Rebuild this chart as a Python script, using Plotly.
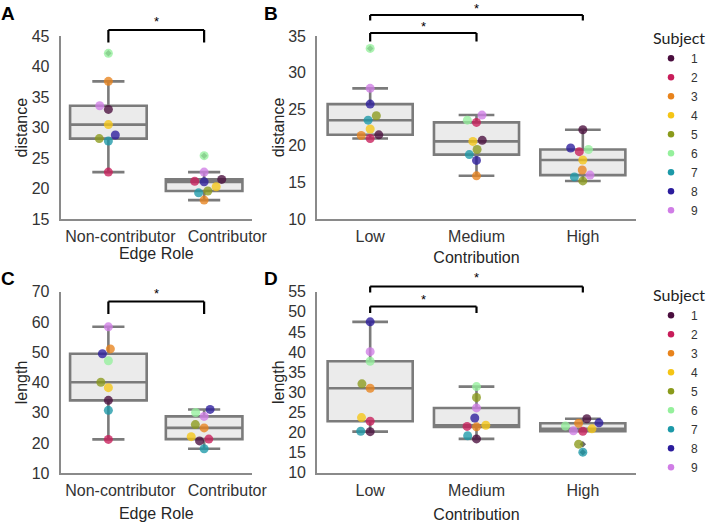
import numpy as np
import plotly.graph_objects as go

# ---------------- data (subjects 1..9) ----------------
subjects = ["1", "2", "3", "4", "5", "6", "7", "8", "9"]
subject_colors = ["#4a0e3e", "#c81d5a", "#e8831c", "#f5c515", "#8a9a1b",
                  "#95f09c", "#1c99a8", "#2b1c9c", "#d07de6"]

roles = ["Non-contributor", "Contributor"]
levels = ["Low", "Medium", "High"]

dist_noncontrib = [33.0, 22.7, 37.6, 30.5, 28.2, 42.2, 27.8, 28.8, 33.6]
dist_contrib = [21.5, 21.2, 18.1, 20.3, 19.6, 25.4, 19.3, 21.1, 22.7]

dist_low = [21.5, 21.0, 21.4, 22.3, 24.1, 33.3, 23.5, 25.7, 27.85]
dist_medium = [20.75, 23.2, 15.9, 20.6, 19.5, 23.5, 18.8, 18.0, 24.2]
dist_high = [22.2, 19.2, 16.7, 18.06, 15.2, 19.5, 15.75, 19.7, 16.0]

len_noncontrib = [34.1, 21.2, 51.1, 38.3, 40.1, 47.2, 30.8, 49.5, 58.4]
len_contrib = [20.7, 21.3, 25.0, 22.1, 26.1, 30.1, 18.1, 31.1, 28.8]

len_low = [20.2, 22.8, 31.0, 23.7, 32.1, 37.7, 20.3, 47.5, 40.1]
len_medium = [18.4, 21.5, 21.4, 21.8, 28.7, 31.4, 19.2, 23.6, 26.1]
len_high = [23.4, 20.3, 22.3, 20.9, 17.1, 21.6, 15.1, 22.4, 20.4]

# ---------------- layout geometry ----------------
W, H = 725, 525
FONT = "Liberation Sans, Arial, sans-serif"
DOT = 9
NB = "\u00a0"

# role labels sit a little wider apart than the boxes in the reference
role_labels = [roles[0], NB * 5 + roles[1]]

panels = [
    dict(letter="A", ax="", cats=role_labels, groups=[dist_noncontrib, dist_contrib],
         xpx=(60.5, 252), ypx=(36.3, 219), yr=(15, 45), dt=5,
         ytitle="distance", xtitle=NB * 3 + "Edge Role", tstand=0, shift=12,
         brackets=[(0, 1, 30, 42.5, 20)], legend=None, lpos=(0, 13)),
    dict(letter="B", ax="2", cats=levels, groups=[dist_low, dist_medium, dist_high],
         xpx=(317, 636), ypx=(36, 219), yr=(10, 35), dt=5,
         ytitle="distance", xtitle="Contribution", tstand=8, shift=0,
         brackets=[(0, 2, 15, 20.5, 5), (0, 1, 33, 41.5, 25)], legend="legend", lpos=(263, 13)),
    dict(letter="C", ax="3", cats=role_labels, groups=[len_noncontrib, len_contrib],
         xpx=(60.5, 252), ypx=(291.7, 473.3), yr=(10, 70), dt=10,
         ytitle="length", xtitle=NB * 3 + "Edge Role", tstand=10, shift=12,
         brackets=[(0, 1, 301.5, 314, 292)], legend=None, lpos=(0, 278)),
    dict(letter="D", ax="4", cats=levels, groups=[len_low, len_medium, len_high],
         xpx=(317, 636), ypx=(291.7, 472.7), yr=(10, 55), dt=5,
         ytitle="length", xtitle="Contribution", tstand=11, shift=0,
         brackets=[(0, 2, 286.5, 292.5, 276), (0, 1, 306.5, 313, 298)], legend="legend2", lpos=(263, 278)),
]


def swarm_offsets(vals, px_per_unit, diam):
    """Seaborn-like beeswarm: returns horizontal offsets in pixels."""
    vals = np.asarray(vals, dtype=float)
    order = np.argsort(vals, kind="stable")
    placed = []
    offs = np.zeros(len(vals))
    r = diam / 2.0
    for i in order:
        y = vals[i] * px_per_unit
        neighbors = [(xj, yj) for (xj, yj) in placed if abs(y - yj) < 2 * r]
        cands = [0.0]
        left_first = True
        for (xj, yj) in neighbors:
            dy = y - yj
            dx = np.sqrt(max((2 * r) ** 2 - dy ** 2, 0)) * 1.05
            pair = [xj - dx, xj + dx] if left_first else [xj + dx, xj - dx]
            cands.extend(pair)
            left_first = not left_first
        cands.sort(key=abs)
        chosen = cands[-1]
        for c in cands:
            if all((c - xj) ** 2 + (y - yj) ** 2 >= (2 * r) ** 2 * 0.999 for xj, yj in neighbors):
                chosen = c
                break
        placed.append((chosen, y))
        offs[i] = chosen
    return offs


fig = go.Figure()
layout = dict(template="none", width=W, height=H, autosize=False,
              margin=dict(l=0, r=0, t=0, b=0, pad=0, autoexpand=False),
              paper_bgcolor="white", plot_bgcolor="white",
              font=dict(family=FONT, size=16, color="#333333"),
              showlegend=True)
shapes, annotations = [], []
STAR_SIZE = 13

for p in panels:
    ax = p["ax"]
    n = len(p["cats"])
    x0, x1 = p["xpx"]
    yt, yb = p["ypx"]
    px_per_cat = (x1 - x0) / n
    px_per_unit = (yb - yt) / (p["yr"][1] - p["yr"][0])
    xa, ya = "x" + ax, "y" + ax

    # box
    bx, by = [], []
    for gi, g in enumerate(p["groups"]):
        bx += [gi] * len(g)
        by += list(g)
    fig.add_trace(go.Box(
        x=bx, y=by, xaxis=xa, yaxis=ya, width=0.8, whiskerwidth=0.42,
        quartilemethod="inclusive", boxpoints="outliers", jitter=0, pointpos=0,
        fillcolor="#ebebeb", line=dict(color="#7b7b7b", width=2.6),
        marker=dict(symbol="diamond", size=5, color="#6a6a6a"),
        showlegend=False, hoverinfo="skip"))

    # swarm points
    offsets = [swarm_offsets(g, px_per_unit, DOT) / px_per_cat for g in p["groups"]]
    for si, s in enumerate(subjects):
        xs = [gi + offsets[gi][si] for gi in range(n)]
        ys = [p["groups"][gi][si] for gi in range(n)]
        fig.add_trace(go.Scatter(
            x=xs, y=ys, xaxis=xa, yaxis=ya, mode="markers", name=s,
            marker=dict(size=DOT, color=subject_colors[si], opacity=0.78),
            showlegend=False, hoverinfo="skip", cliponaxis=False))
    if p["legend"]:
        for si, s in enumerate(subjects):
            fig.add_trace(go.Scatter(
                x=[None], y=[None], xaxis=xa, yaxis=ya, mode="markers", name=s,
                marker=dict(size=6.5, color=subject_colors[si]),
                legend=p["legend"], showlegend=True, hoverinfo="skip"))

    # axes
    layout["xaxis" + ax] = dict(
        domain=[x0 / W, x1 / W], anchor=ya, range=[-0.5, n - 0.5], automargin=False,
        tickvals=list(range(n)), ticktext=p["cats"], ticks="", showgrid=False,
        zeroline=False, showline=True, linecolor="#8a8a8a", linewidth=1.6,
        tickangle=0, tickfont=dict(size=16, color="#333333"), ticklabelshift=p["shift"],
        ticklabelstandoff=2,
        title=dict(text=p["xtitle"], font=dict(size=16, color="#262626"), standoff=p["tstand"]))
    layout["yaxis" + ax] = dict(
        domain=[1 - yb / H, 1 - yt / H], anchor=xa, range=list(p["yr"]), automargin=False,
        dtick=p["dt"], tick0=0, ticks="", showgrid=False, zeroline=False,
        showline=True, linecolor="#8a8a8a", linewidth=1.6,
        tickfont=dict(size=16, color="#333333"), ticklabelstandoff=6,
        title=dict(text=p["ytitle"], font=dict(size=16, color="#262626"), standoff=0))

    # significance brackets
    for (i, j, ybar, yleg, ystar) in p["brackets"]:
        xi = (x0 + (i + 0.5) * px_per_cat) / W
        xj = (x0 + (j + 0.5) * px_per_cat) / W
        line = dict(color="black", width=2.2)
        for (ax0, ay0, ax1, ay1) in [(xi, yleg, xi, ybar), (xi, ybar, xj, ybar), (xj, ybar, xj, yleg)]:
            shapes.append(dict(type="line", xref="paper", yref="paper",
                               x0=ax0, x1=ax1, y0=1 - ay0 / H, y1=1 - ay1 / H, line=line))
        top = max(0.0, ystar - 0.52 * STAR_SIZE)
        annotations.append(dict(text="*", xref="paper", yref="paper", x=(xi + xj) / 2,
                                y=1 - top / H, showarrow=False, xanchor="center",
                                yanchor="top", borderpad=0,
                                font=dict(size=STAR_SIZE, color="black")))

    annotations.append(dict(text="<b>%s</b>" % p["letter"], xref="paper", yref="paper",
                            x=p["lpos"][0] / W, y=1 - p["lpos"][1] / H, xanchor="left",
                            yanchor="middle", showarrow=False, borderpad=0,
                            font=dict(size=19, color="black", family=FONT)))

legend_common = dict(xanchor="left", yanchor="top", bgcolor="rgba(0,0,0,0)",
                     font=dict(size=12, color="#333333", family=FONT),
                     title=dict(text="Subject", font=dict(size=16, color="#222222", family="Lato")),
                     tracegroupgap=0, itemclick=False, itemdoubleclick=False)
layout["legend"] = dict(x=651 / W, y=1 - 23 / H, **legend_common)
layout["legend2"] = dict(x=651 / W, y=1 - 280 / H, **legend_common)
layout["shapes"] = shapes
layout["annotations"] = annotations
fig.update_layout(**layout)

# the page's default 8px body margin would shift the whole 725x525 figure
fig.write_html("out.html", config={"displayModeBar": False},
               post_script="document.body.style.margin='0px';")
